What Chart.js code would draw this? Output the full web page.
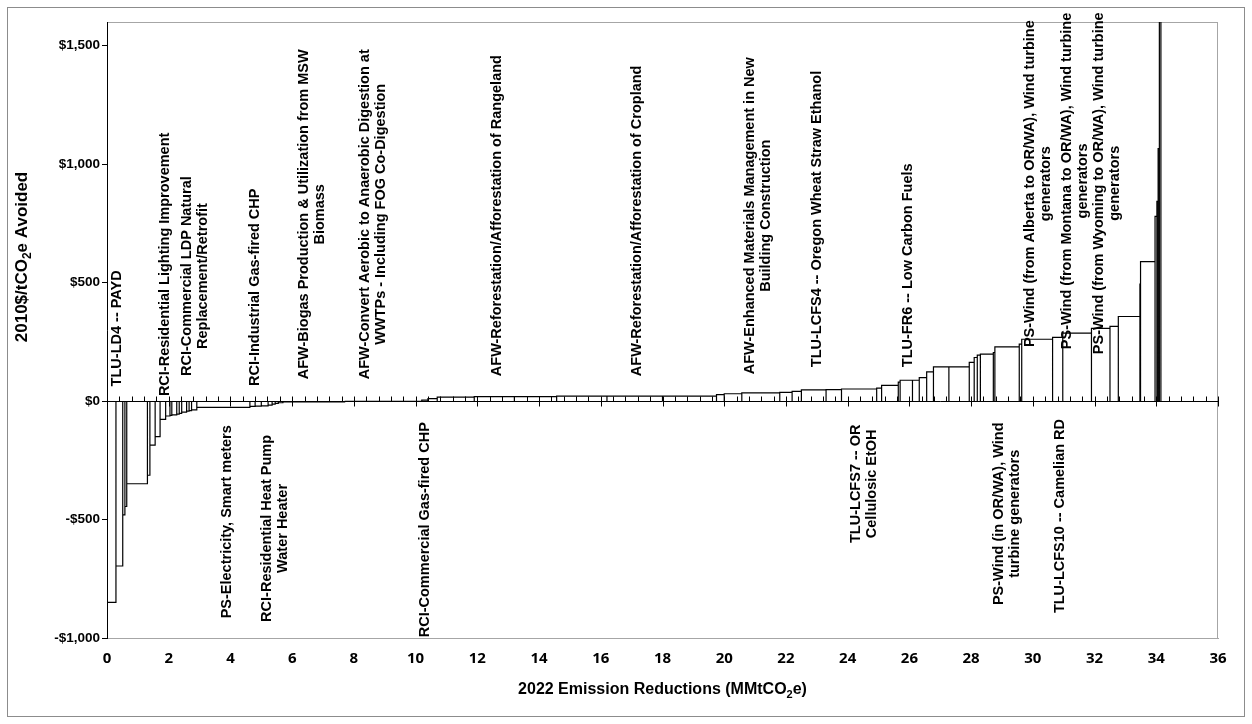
<!DOCTYPE html>
<html>
<head>
<meta charset="utf-8">
<title>2022 Emission Reductions cost curve</title>
<script src="https://cdn.jsdelivr.net/npm/chart.js@4.4.1/dist/chart.umd.min.js"></script>
<style>
    html, body { margin: 0; padding: 0; background: #fff; }
    #wrap { width: 1252px; height: 724px; }
</style>
</head>
<body>
<div id="wrap"><canvas id="macc" width="1252" height="724"></canvas></div>
<script>
// Each option is one box: width = 2022 reductions (MMtCO2e), height = cost (2010$/tCO2e)
const optionWidths = [
    0.29, 0.22, 0.07, 0.06, 0.67, 0.08, 0.17, 0.16, 0.18, 0.14,
    0.06, 0.16, 0.08, 0.08, 0.16, 0.08, 0.08, 0.17, 1.72, 0.17,
    0.20, 0.22, 0.13, 0.10, 0.10, 0.15, 2.00, 2.50, 0.20, 0.30,
    1.20, 1.30, 1.37, 1.63, 1.80, 1.75, 0.25, 0.57, 1.23, 0.40,
    0.30, 0.80, 0.50, 1.14, 0.16, 0.54, 0.06, 0.40, 0.22, 0.24,
    0.22, 0.50, 0.66, 0.16, 0.10, 0.10, 0.42, 0.05, 0.79, 0.08,
    1.00, 0.33, 0.93, 0.60, 0.27, 0.70, 0.02, 0.47, 0.06, 0.04,
    0.04, 0.05
];
const optionCosts = [
    -850, -696, -480, -445, -349, -313, -186, -150, -77, -63,
    -60, -58, -55, -52, -47, -42, -40, -37, -27, -22,
    -21, -20, -17, -13, -10, -7, -4, -1, 4, 10,
    17, 19, 19, 21, 21, 21, 27, 31, 35, 37,
    41, 47, 48, 51, 55, 66, 80, 88, 88, 99,
    123, 144, 144, 163, 184, 194, 198, 205, 229, 240,
    261, 269, 287, 307, 315, 357, 494, 589, 780, 843,
    1066, 1700
];

const costTicks = [-1000, -500, 0, 500, 1000, 1500];

// Option names written along the curve
const optionLabels = [
    'TLU-LD4 -- PAYD',
    'RCI-Residential Lighting Improvement',
    'RCI-Commercial LDP Natural\nReplacement/Retrofit',
    'RCI-Industrial Gas-fired CHP',
    'AFW-Biogas Production & Utilization from MSW\nBiomass',
    'AFW-Convert Aerobic to Anaerobic Digestion at\nWWTPs - Including FOG Co-Digestion',
    'AFW-Reforestation/Afforestation of Rangeland',
    'AFW-Reforestation/Afforestation of Cropland',
    'AFW-Enhanced Materials Management in New\nBuilding Construction',
    'TLU-LCFS4 -- Oregon Wheat Straw Ethanol',
    'TLU-FR6 -- Low Carbon Fuels',
    'PS-Wind (from Alberta to OR/WA), Wind turbine\ngenerators',
    'PS-Wind (from Montana to OR/WA), Wind turbine\ngenerators',
    'PS-Wind (from Wyoming to OR/WA), Wind turbine\ngenerators',
    'PS-Electricity, Smart meters',
    'RCI-Residential Heat Pump\nWater Heater',
    'RCI-Commercial Gas-fired CHP',
    'TLU-LCFS7 -- OR\nCellulosic EtOH',
    'PS-Wind (in OR/WA), Wind\nturbine generators',
    'TLU-LCFS10 -- Camelian RD'
];
// where each name starts: [MMtCO2e at the block centre, $/tCO2e at the start of the text]
const labelAt = [
    [0.32, 62], [1.88, 21], [2.85, 106], [4.80, 64], [6.64, 92],
    [8.62, 92], [12.64, 105], [17.17, 105], [21.10, 113], [23.01, 143],
    [25.96, 143], [30.17, 228], [31.37, 219], [32.40, 198],
    [3.89, -917], [5.44, -932], [10.30, -997], [24.53, -599], [29.16, -861], [30.88, -895]
];

// Outline of every box, left edge up, across the top and back down
function buildSteps() {
    const pts = [];
    let x = 0;
    optionWidths.forEach((w, i) => {
        const c = optionCosts[i];
        pts.push({ x: x, y: 0 }, { x: x, y: c }, { x: x + w, y: c }, { x: x + w, y: 0 });
        x += w;
    });
    return pts;
}

const labelFont = 'bold 14.5px Arial, "Liberation Sans", sans-serif';

function drawTitle(ctx, pieces, size) {
    // pieces: [text, isSubscript], centred on the current origin
    const fonts = pieces.map(p => `bold ${p[1] ? Math.round(size * 0.68) : size}px Arial, "Liberation Sans", sans-serif`);
    let total = 0;
    const widths = pieces.map((p, i) => {
        ctx.font = fonts[i];
        const w = ctx.measureText(p[0]).width;
        total += w;
        return w;
    });
    let x = -total / 2;
    ctx.textAlign = 'left';
    ctx.textBaseline = 'middle';
    pieces.forEach((p, i) => {
        ctx.font = fonts[i];
        ctx.fillText(p[0], x, p[1] ? size * 0.32 : 0);
        x += widths[i];
    });
}

const decorations = {
    id: 'decorations',
    beforeDraw(chart) {
        const ctx = chart.ctx;
        const a = chart.chartArea;
        ctx.save();
        ctx.fillStyle = '#fff';
        ctx.fillRect(0, 0, chart.width, chart.height);
        ctx.strokeStyle = '#8c8c8c';
        ctx.lineWidth = 1;
        ctx.strokeRect(7.5, 7.5, chart.width - 15, chart.height - 15);
        ctx.strokeStyle = '#a6a6a6';
        ctx.strokeRect(a.left + 0.5, a.top + 0.5, a.right - a.left - 1, a.bottom - a.top);
        ctx.restore();
    },
    afterDatasetsDraw(chart) {
        const ctx = chart.ctx;
        const xs = chart.scales.x;
        const ys = chart.scales.y;
        const y0 = Math.round(ys.getPixelForValue(0)) + 0.5;

        // horizontal axis crossing at $0, minor ticks every 0.4
        ctx.save();
        ctx.strokeStyle = '#000';
        ctx.lineWidth = 1;
        ctx.beginPath();
        ctx.moveTo(xs.left, y0);
        ctx.lineTo(xs.right, y0);
        for (let i = 0; i <= 90; i++) {
            const px = Math.round(xs.getPixelForValue(i * 0.4)) + 0.5;
            const major = i % 5 === 0;
            ctx.moveTo(px, y0 - 5);
            ctx.lineTo(px, major ? y0 + 5 : y0);
        }
        ctx.stroke();

        // option names, rotated to read upwards; extra lines centred on the longest one
        ctx.fillStyle = '#000';
        ctx.font = labelFont;
        ctx.textAlign = 'center';
        ctx.textBaseline = 'middle';
        const lineGap = 15.5;
        optionLabels.forEach((text, i) => {
            const lines = text.split('\n');
            const longest = Math.max(...lines.map(l => ctx.measureText(l).width));
            ctx.save();
            ctx.translate(xs.getPixelForValue(labelAt[i][0]), ys.getPixelForValue(labelAt[i][1]));
            ctx.rotate(-Math.PI / 2);
            lines.forEach((line, k) => {
                ctx.fillText(line, longest / 2, (k - (lines.length - 1) / 2) * lineGap);
            });
            ctx.restore();
        });

        // axis titles
        const a = chart.chartArea;
        ctx.save();
        ctx.translate((a.left + a.right) / 2, 690);
        drawTitle(ctx, [['2022 Emission Reductions (MMtCO', false], ['2', true], ['e)', false]], 16);
        ctx.restore();
        ctx.save();
        ctx.translate(22, 257);
        ctx.rotate(-Math.PI / 2);
        drawTitle(ctx, [['2010$/tCO', false], ['2', true], ['e Avoided', false]], 17);
        ctx.restore();
        ctx.restore();
    }
};

new Chart(document.getElementById('macc'), {
    type: 'scatter',
    data: {
        datasets: [{
            data: buildSteps(),
            showLine: true,
            borderColor: '#000',
            borderWidth: 1.2,
            pointRadius: 0,
            tension: 0,
            fill: false
        }]
    },
    options: {
        responsive: false,
        devicePixelRatio: 1,
        animation: false,
        layout: { padding: { top: 22, right: 34, bottom: 0, left: 0 } },
        plugins: { legend: { display: false }, tooltip: { enabled: false } },
        scales: {
            x: {
                type: 'linear',
                min: 0,
                max: 36,
                afterFit: s => { s.height = 86; },
                border: { color: '#a6a6a6', width: 1 },
                grid: { display: false, drawTicks: false },
                ticks: {
                    stepSize: 2,
                    padding: 12,
                    color: '#000',
                    font: { family: '"Open Sans", sans-serif', weight: 'bold', size: 15 }
                }
            },
            y: {
                type: 'linear',
                min: -1000,
                max: 1600,
                afterFit: s => { s.width = 107; },
                afterBuildTicks: s => { s.ticks = costTicks.map(v => ({ value: v })); },
                border: { color: '#000', width: 1 },
                grid: { drawOnChartArea: false, drawTicks: true, tickLength: 5, color: '#000' },
                ticks: {
                    padding: 2,
                    color: '#000',
                    font: { family: 'Arial, "Liberation Sans", sans-serif', weight: 'bold', size: 13.5 },
                    callback: v => (v < 0 ? '-$' : '$') + Math.abs(v).toLocaleString('en-US')
                }
            }
        }
    },
    plugins: [decorations]
});
</script>
</body>
</html>
